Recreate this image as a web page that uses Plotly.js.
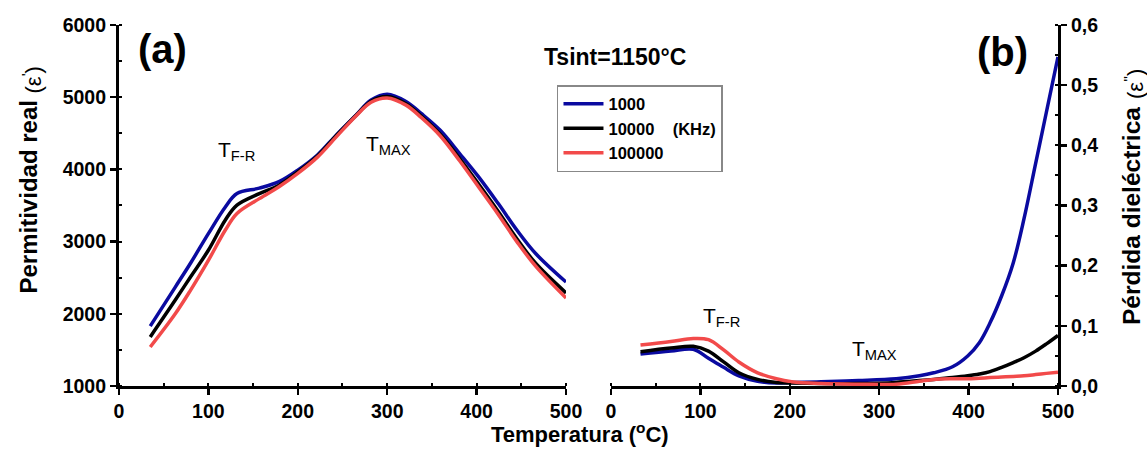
<!DOCTYPE html>
<html>
<head>
<meta charset="utf-8">
<script src="https://cdn.plot.ly/plotly-3.0.1.min.js"></script>
<style>html,body{margin:0;padding:0;background:#fff;}#chart{width:1147px;height:451px;}</style>
</head>
<body>
<div id="chart"></div>
<script>
// Panel (a): real permittivity vs temperature
const tempA = [35, 63, 80, 100, 119, 132, 157, 179, 200, 222, 243, 265, 282, 300, 321, 338, 359, 381, 402, 424, 445, 466, 500];
const epsReal1000   = [1830, 2370, 2700, 3110, 3480, 3665, 3740, 3830, 3990, 4200, 4475, 4750, 4960, 5040, 4940, 4775, 4545, 4220, 3900, 3530, 3160, 2835, 2440];
const epsReal10000  = [1680, 2190, 2510, 2880, 3300, 3505, 3665, 3780, 3965, 4185, 4465, 4745, 4945, 5010, 4910, 4740, 4490, 4150, 3800, 3420, 3040, 2700, 2290];
const epsReal100000 = [1540, 2000, 2325, 2740, 3160, 3390, 3595, 3760, 3945, 4170, 4450, 4740, 4930, 4990, 4890, 4720, 4470, 4120, 3760, 3380, 3000, 2660, 2220];

// Panel (b): dielectric loss vs temperature
const tempB = [33, 67, 92, 109, 126, 143, 164, 185, 202, 235, 277, 319, 345, 361, 382, 399, 412, 424, 437, 450, 462, 475, 487, 500];
const loss1000   = [0.053, 0.058, 0.061, 0.046, 0.031, 0.017, 0.008, 0.005, 0.006, 0.007, 0.009, 0.012, 0.017, 0.022, 0.032, 0.050, 0.072, 0.105, 0.150, 0.205, 0.278, 0.370, 0.455, 0.547];
const loss10000  = [0.057, 0.063, 0.066, 0.058, 0.040, 0.022, 0.011, 0.006, 0.005, 0.004, 0.004, 0.006, 0.009, 0.011, 0.014, 0.017, 0.020, 0.024, 0.031, 0.039, 0.047, 0.058, 0.070, 0.084];
const loss100000 = [0.068, 0.074, 0.079, 0.077, 0.060, 0.040, 0.022, 0.012, 0.007, 0.004, 0.003, 0.003, 0.008, 0.011, 0.012, 0.012, 0.013, 0.014, 0.015, 0.016, 0.017, 0.019, 0.021, 0.023];

// Tick labels
const xTickVals = [0, 100, 200, 300, 400, 500];
const xTickText = ['0', '100', '200', '300', '400', '500'];
const yTickVals = [1000, 2000, 3000, 4000, 5000, 6000];
const yTickText = ['1000', '2000', '3000', '4000', '5000', '6000'];
const y2TickVals = [0, 0.1, 0.2, 0.3, 0.4, 0.5, 0.6];
const y2TickText = ['0,0', '0,1', '0,2', '0,3', '0,4', '0,5', '0,6'];

const seriesNames = ['<b>1000</b>', '<b>10000&nbsp;&nbsp;&nbsp;&nbsp;(KHz)</b>', '<b>100000</b>'];
const seriesColors = ['#0a0aa0', '#000000', '#f24a4a'];

const FONT = 'Liberation Sans, Arial, sans-serif';
const lineW = 3.5;

const realSeries = [epsReal1000, epsReal10000, epsReal100000];
const lossSeries = [loss1000, loss10000, loss100000];

const traces = [];
realSeries.forEach((ys, i) => {
  traces.push({x: tempA, y: ys, xaxis: 'x', yaxis: 'y', type: 'scatter', mode: 'lines',
    name: seriesNames[i], legendgroup: 'g' + i,
    line: {color: seriesColors[i], width: lineW, shape: 'spline', smoothing: 1}});
});
lossSeries.forEach((ys, i) => {
  traces.push({x: tempB, y: ys, xaxis: 'x2', yaxis: 'y2', type: 'scatter', mode: 'lines',
    name: seriesNames[i], legendgroup: 'g' + i, showlegend: false,
    line: {color: seriesColors[i], width: lineW, shape: 'spline', smoothing: 1}});
});

const bold = arr => arr.map(t => '<b>' + t + '</b>');
const tickFont = {family: FONT, size: 19.5, color: '#000', weight: 'bold'};
const common = {showline: true, linecolor: '#000', linewidth: 3, showgrid: false, zeroline: false,
  ticks: 'outside', ticklen: 6, tickwidth: 2.5, tickcolor: '#000', tickfont: tickFont, tickmode: 'array'};
const minorStyle = {ticks: 'inside', ticklen: 3, tickwidth: 2, tickcolor: '#000', showgrid: false};
function xAx(domain, anchor) {
  return Object.assign({domain: domain, anchor: anchor, range: [0, 500],
    tickvals: xTickVals, ticktext: bold(xTickText),
    minor: Object.assign({tickmode: 'linear', tick0: 0, dtick: 50}, minorStyle)}, common);
}

const yDomain = [0.1441, 0.9446];
const px2y = p => (451 - p) / 451;
const layout = {
  width: 1147, height: 451,
  margin: {l: 0, r: 0, t: 0, b: 0},
  paper_bgcolor: '#fff', plot_bgcolor: '#fff',
  font: {family: FONT, color: '#000'},
  showlegend: true,
  legend: {x: 0.4856, y: px2y(85), xanchor: 'left', yanchor: 'top',
    bgcolor: '#fff', bordercolor: '#888', borderwidth: 1.5,
    font: {family: FONT, size: 16.5, color: '#000'},
    tracegroupgap: 0, itemwidth: 40},
  xaxis: xAx([0.1037, 0.4935], 'y'),
  xaxis2: xAx([0.5327, 0.9224], 'y2'),
  yaxis: Object.assign({domain: yDomain, anchor: 'x', range: [1000, 6000],
    tickvals: yTickVals, ticktext: bold(yTickText),
    minor: Object.assign({tickmode: 'linear', tick0: 1000, dtick: 500}, minorStyle)}, common),
  yaxis2: Object.assign({domain: yDomain, anchor: 'x2', side: 'right', range: [0, 0.6],
    tickvals: y2TickVals, ticktext: bold(y2TickText),
    minor: Object.assign({tickmode: 'linear', tick0: 0, dtick: 0.05}, minorStyle)}, common),
  annotations: [
    {text: '<b>Tsint=1150°C</b>', xref: 'paper', yref: 'paper', x: 0.536, y: 0.8736,
      xanchor: 'center', yanchor: 'middle', showarrow: false, font: {family: FONT, size: 23, color: '#000'}},
    {text: '<b>(a)</b>', xref: 'paper', yref: 'paper', x: 0.142, y: 0.891,
      xanchor: 'center', yanchor: 'middle', showarrow: false, font: {family: FONT, size: 40, color: '#000'}},
    {text: '<b>(b)</b>', xref: 'paper', yref: 'paper', x: 0.8736, y: 0.885,
      xanchor: 'center', yanchor: 'middle', showarrow: false, font: {family: FONT, size: 40, color: '#000'}},
    {text: 'T<sub>F-R</sub>', xref: 'x', yref: 'y', x: 131, y: 4257,
      xanchor: 'center', yanchor: 'middle', showarrow: false, font: {family: FONT, size: 21, color: '#000'}},
    {text: 'T<sub>MAX</sub>', xref: 'x', yref: 'y', x: 302, y: 4340,
      xanchor: 'center', yanchor: 'middle', showarrow: false, font: {family: FONT, size: 21, color: '#000'}},
    {text: 'T<sub>F-R</sub>', xref: 'x2', yref: 'y2', x: 124, y: 0.115,
      xanchor: 'center', yanchor: 'middle', showarrow: false, font: {family: FONT, size: 21, color: '#000'}},
    {text: 'T<sub>MAX</sub>', xref: 'x2', yref: 'y2', x: 295, y: 0.06,
      xanchor: 'center', yanchor: 'middle', showarrow: false, font: {family: FONT, size: 21, color: '#000'}},
    // left y title: main part + parenthetical
    {text: '<b>Permitividad real</b>', xref: 'paper', yref: 'paper',
      x: 28 / 1147, y: px2y(99), xanchor: 'center', yanchor: 'top', textangle: -90, showarrow: false,
      font: {family: FONT, size: 24, color: '#000'}},
    {text: "(ε<sup>'</sup>)", xref: 'paper', yref: 'paper',
      x: 31 / 1147, y: px2y(96), xanchor: 'center', yanchor: 'bottom', textangle: -90, showarrow: false,
      font: {family: FONT, size: 22, color: '#000'}},
    // right y title
    {text: '<b>Pérdida dieléctrica</b>', xref: 'paper', yref: 'paper',
      x: 1131 / 1147, y: px2y(105), xanchor: 'center', yanchor: 'top', textangle: -90, showarrow: false,
      font: {family: FONT, size: 24.5, color: '#000'}},
    {text: "(ε<sup>''</sup>)", xref: 'paper', yref: 'paper',
      x: 1134 / 1147, y: px2y(101), xanchor: 'center', yanchor: 'bottom', textangle: -90, showarrow: false,
      font: {family: FONT, size: 22, color: '#000'}},
    {text: '<b>Temperatura (<sup>o</sup>C)</b>', xref: 'paper', yref: 'paper', x: 580 / 1147, y: 0.004,
      xanchor: 'center', yanchor: 'bottom', showarrow: false, font: {family: FONT, size: 22, color: '#000'}}
  ]
};

Plotly.newPlot('chart', traces, layout, {staticPlot: true, displayModeBar: false});
</script>
</body>
</html>
